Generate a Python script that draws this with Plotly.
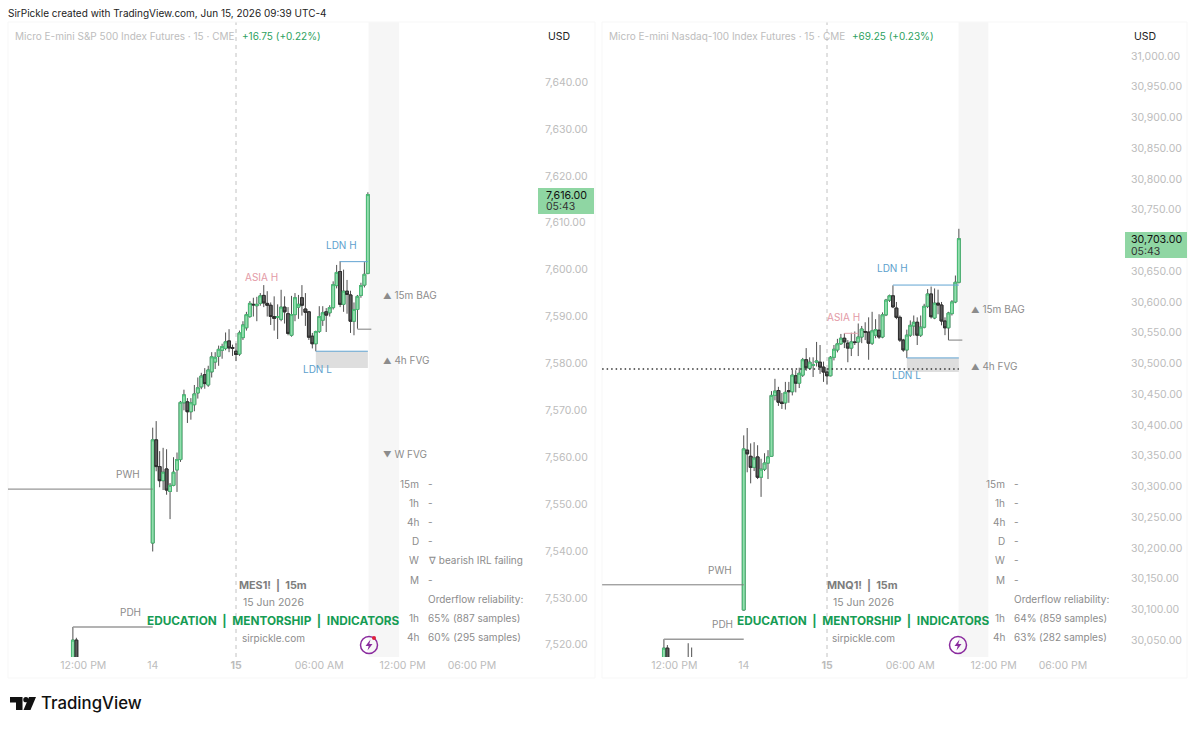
import plotly.graph_objects as go

W, H = 1199, 729
FONT = "Inter, 'Liberation Sans', sans-serif"

# Bars are placed by their 15-minute offset from midnight on 15 Jun
bar_offset = [-47, -46] + list(range(-24, 39))
mnq_offset = [-47, -46, -40, -39] + list(range(-24, 39))

mes_open = [7515, 7521,
    7541.7, 7563.7, 7558, 7555, 7557.5, 7552.7, 7554, 7557.3, 7559.5, 7571.6, 7571.8, 7569.7,
    7571.2, 7573.7, 7575, 7577.6, 7575.4, 7578.2, 7580.3, 7581.5, 7582.8, 7583.2, 7584.8, 7583.4,
    7582.6, 7582, 7585.5, 7587.6, 7590, 7592.6, 7592.3, 7592.8, 7594.5, 7592.8, 7592.4, 7590,
    7589.8, 7589.4, 7592, 7590.6, 7586, 7590.4, 7592, 7594, 7591.6, 7591, 7585.8, 7584.2,
    7586.8, 7589.2, 7591, 7590.8, 7591.9, 7596.6, 7599.6, 7592.6, 7595.4, 7594.6, 7589, 7591.5,
    7594.5, 7596.7, 7599.2]
mes_high = [7523.8, 7521.5,
    7566.3, 7567.7, 7561.3, 7562, 7561.7, 7554.5, 7560, 7561, 7572, 7574.4, 7572.6, 7572.6,
    7575.4, 7577, 7578, 7579, 7579.5, 7582.4, 7582.4, 7583.8, 7584.2, 7586.6, 7587.3, 7584,
    7584.3, 7587, 7589, 7591, 7593.3, 7594, 7594.2, 7595, 7596.7, 7595.4, 7593, 7594.3,
    7592.6, 7595.7, 7594.3, 7592, 7594.4, 7595, 7594.6, 7596.7, 7595, 7591.2, 7586.5, 7587,
    7592.2, 7592.2, 7591.8, 7592.4, 7597.5, 7601, 7601.8, 7600, 7597.8, 7595.5, 7593, 7594.6,
    7597.2, 7601.6, 7616.5]
mes_low = [7510, 7510,
    7539.9, 7557, 7553.6, 7553, 7552, 7546.8, 7553.8, 7552.6, 7559, 7570, 7567.3, 7568,
    7569.8, 7572.5, 7574.5, 7574.6, 7575, 7577, 7578.8, 7579.5, 7581, 7582.8, 7582.4, 7581.6,
    7580.5, 7581.6, 7585, 7587, 7589.7, 7590, 7589, 7592.3, 7592, 7590, 7588.2, 7587,
    7585.2, 7589, 7588.5, 7586, 7585.7, 7589, 7589.5, 7590.2, 7588, 7585, 7583.2, 7582.6,
    7586.5, 7588, 7586.7, 7590, 7591.5, 7596, 7592, 7591, 7590.6, 7586.5, 7586, 7587.4,
    7594, 7596.2, 7599]
mes_close = [7521, 7515,
    7563.7, 7558, 7555, 7556.8, 7553, 7554, 7556.8, 7559.5, 7571.7, 7573.3, 7569.7, 7571.6,
    7573.5, 7574.8, 7577.3, 7575.7, 7578.6, 7581.4, 7581.3, 7583, 7583.6, 7584.6, 7583.3, 7583.2,
    7581.9, 7586.5, 7588.2, 7590.4, 7592.8, 7592.5, 7592.6, 7594.4, 7592.9, 7592.4, 7590, 7589.6,
    7590, 7592, 7591, 7586.4, 7590.4, 7594, 7592.6, 7592.4, 7590.9, 7585.6, 7584.2, 7586.8,
    7590, 7590.8, 7590.3, 7591.9, 7596.8, 7599.4, 7592.6, 7595.4, 7594.7, 7589, 7591.5, 7594.3,
    7596.6, 7599, 7616]

mnq_open = [30000, 30037, 30010, 30010,
    30099, 30359, 30349, 30331, 30348, 30315, 30328, 30338, 30349, 30448, 30456, 30437,
    30436, 30456, 30454, 30480, 30468, 30481, 30506, 30492, 30497, 30502, 30502, 30494,
    30486, 30480, 30510, 30522, 30532, 30541, 30533, 30525, 30535, 30535, 30543, 30552,
    30551, 30533, 30546, 30554, 30543, 30579, 30603, 30610, 30590, 30575, 30538, 30522,
    30546, 30561, 30567, 30546, 30559, 30593, 30613, 30574, 30598, 30595, 30569, 30558,
    30581, 30600, 30632]
mnq_high = [30051.6, 30042, 30045, 30038,
    30383, 30395, 30370, 30372, 30367, 30345, 30354, 30359, 30455, 30475, 30462, 30452,
    30470, 30470, 30490, 30489, 30493, 30509, 30525, 30510, 30510, 30535, 30530, 30503,
    30492, 30512, 30530, 30540, 30548, 30549, 30538, 30550, 30552, 30565, 30561, 30567,
    30575, 30584, 30572, 30580, 30583, 30605, 30612, 30627, 30600, 30578, 30540, 30555,
    30570, 30578, 30575, 30578, 30597, 30621, 30625, 30622, 30620, 30600, 30575, 30584,
    30603, 30643, 30719]
mnq_low = [29990, 29990, 30005, 30005,
    30098, 30323, 30305, 30325, 30312, 30283, 30325, 30312, 30348, 30440, 30431, 30426,
    30425, 30436, 30448, 30453, 30460, 30478, 30488, 30490, 30478, 30495, 30483, 30470,
    30466, 30479, 30505, 30518, 30530, 30525, 30502, 30512, 30530, 30512, 30533, 30538,
    30506, 30530, 30541, 30540, 30541, 30577, 30600, 30590, 30572, 30535, 30519, 30509,
    30543, 30545, 30530, 30543, 30557, 30590, 30573, 30572, 30580, 30562, 30546, 30538,
    30578, 30598, 30630]
mnq_close = [30037, 30000, 30015, 30012,
    30361, 30353, 30331, 30346, 30315, 30328, 30338, 30348, 30448, 30455, 30437, 30435,
    30453, 30454, 30481, 30468, 30484, 30506, 30493, 30502, 30498, 30504, 30494, 30486,
    30480, 30510, 30523, 30532, 30541, 30535, 30525, 30535, 30534, 30543, 30556, 30551,
    30533, 30553, 30555, 30543, 30579, 30603, 30610, 30592, 30575, 30538, 30522, 30546,
    30562, 30567, 30546, 30559, 30593, 30613, 30576, 30598, 30595, 30569, 30558, 30582,
    30600, 30632, 30703]

mes_ticks = [7640, 7630, 7620, 7610, 7600, 7590, 7580, 7570, 7560, 7550, 7540, 7530, 7520]
mnq_ticks = [31000, 30950, 30900, 30850, 30800, 30750, 30650, 30600, 30550, 30500, 30450,
             30400, 30350, 30300, 30250, 30200, 30150, 30100, 30050]
time_ticks = [-44, -24, 0, 24, 48, 68]
time_labels = ["12:00 PM", "14", "<b>15</b>", "06:00 AM", "12:00 PM", "06:00 PM"]

# Session and weekly levels: (start bar, end bar, price)
mes_pwh = (-65.7, -24, 7553.2)
mes_pdh = (-47, -24, 7523.8)
mes_ldn_h = (30, 38, 7601.7)
mes_ldn_l = (23, 38, 7582.6)
mes_bag = (35, 39, 7587.3)
mes_fvg = (23, 38, 7579.0, 7582.6)

mnq_pwh = (-64.8, -24, 30140)
mnq_pdh = (-47, -24, 30051.6)
mnq_asia_h = (5, 9, 30549)
mnq_ldn_h = (19, 38, 30627.5)
mnq_ldn_l = (23, 38, 30509)
mnq_bag = (35, 39, 30538)
mnq_fvg = (23, 38, 30486, 30509)
mnq_dotted = (-64.8, 38, 30491)


def px(x):
    return x / W


def py(y):
    return 1 - y / H


GREY_LINE = "#7d7d7d"
BLUE = "#62a4d2"
PINK = "#e6a4ae"
BLUE_TEXT = "#5d9fcd"
PINK_TEXT = "#e39aa6"
GREY_TEXT = "#8c8c8c"
AXIS_TEXT = "#bcbcbc"
GREEN_TEXT = "#169c54"

fig = go.Figure()


def add_candles(x, o, h, l, c, xa, ya):
    # Wicks go first in charcoal, then the bodies sit on top with their own outline
    fig.add_trace(go.Candlestick(
        x=x, open=o, high=h, low=l, close=c, xaxis=xa, yaxis=ya, whiskerwidth=0,
        increasing=dict(line=dict(color="#4f4f4f", width=1), fillcolor="#4f4f4f"),
        decreasing=dict(line=dict(color="#4f4f4f", width=1), fillcolor="#4f4f4f"),
        hoverinfo="skip", showlegend=False))
    fig.add_trace(go.Candlestick(
        x=x, open=o, close=c, xaxis=xa, yaxis=ya, whiskerwidth=0,
        high=[max(a, b) for a, b in zip(o, c)],
        low=[min(a, b) for a, b in zip(o, c)],
        increasing=dict(line=dict(color="#49bb75", width=1), fillcolor="#93deae"),
        decreasing=dict(line=dict(color="#2e2e2e", width=1), fillcolor="#5c5c5c"),
        hoverinfo="skip", showlegend=False))


add_candles(bar_offset, mes_open, mes_high, mes_low, mes_close, "x", "y")
add_candles(mnq_offset, mnq_open, mnq_high, mnq_low, mnq_close, "x2", "y2")

shapes = []


def level(xa, ya, lv, color, width=1, dash="solid"):
    shapes.append(dict(type="line", xref=xa, yref=ya, x0=lv[0], x1=lv[1], y0=lv[2], y1=lv[2],
                       line=dict(color=color, width=width, dash=dash), layer="above"))


def zone(xa, ya, z):
    shapes.append(dict(type="rect", xref=xa, yref=ya, x0=z[0], x1=z[1], y0=z[2], y1=z[3],
                       fillcolor="#dedede", line=dict(width=0), layer="below"))


def furniture(xa, ya, band):
    # Grey strip after the last bar and the dashed day separator
    shapes.append(dict(type="rect", xref=xa, yref=ya + " domain", x0=band[0], x1=band[1], y0=0, y1=1,
                       fillcolor="#f6f6f6", line=dict(width=0), layer="below"))
    shapes.append(dict(type="line", xref=xa, yref=ya + " domain", x0=0, x1=0, y0=0, y1=1,
                       line=dict(color="#c2c2c2", width=1, dash="4px,4px"), layer="below"))


furniture("x", "y", (38.2, 47))
furniture("x2", "y2", (37.9, 46.5))
zone("x", "y", mes_fvg)
zone("x2", "y2", mnq_fvg)
level("x", "y", mes_pwh, GREY_LINE)
level("x", "y", mes_pdh, "#9a9a9a", 1.5)
level("x", "y", mes_ldn_h, BLUE)
level("x", "y", mes_ldn_l, BLUE)
level("x", "y", mes_bag, GREY_LINE)
level("x2", "y2", mnq_pwh, GREY_LINE)
level("x2", "y2", mnq_pdh, "#9a9a9a", 1.5)
level("x2", "y2", mnq_asia_h, PINK)
level("x2", "y2", mnq_ldn_h, BLUE)
level("x2", "y2", mnq_ldn_l, BLUE)
level("x2", "y2", mnq_bag, GREY_LINE)
level("x2", "y2", mnq_dotted, "#333333", 1.5, "1.5px,3px")

# Pane outlines and the price tags on the scales
for x0, x1 in ((8, 595), (602, 1187)):
    shapes.append(dict(type="rect", xref="paper", yref="paper", x0=px(x0), x1=px(x1), y0=py(678), y1=py(22),
                       line=dict(color="#f7f7f7", width=1), fillcolor="rgba(0,0,0,0)", layer="below"))
for x0, x1, y0, y1 in ((538, 594, 188, 214), (1125, 1187, 232, 258)):
    shapes.append(dict(type="rect", xref="paper", yref="paper", x0=px(x0), x1=px(x1), y0=py(y1), y1=py(y0),
                       fillcolor="#8fd6a3", line=dict(width=0), layer="above"))


def bolt_badge(cx, cy, dot):
    shapes.append(dict(type="circle", xref="paper", yref="paper", x0=px(cx - 8.5), x1=px(cx + 8.5),
                       y0=py(cy + 8.5), y1=py(cy - 8.5), line=dict(color="#8a2a9e", width=1.5),
                       fillcolor="rgba(255,255,255,0)", layer="above"))
    pts = [(1.5, -5.5), (-3.5, 1), (-0.3, 1), (-1.5, 5.5), (3.5, -1), (0.3, -1)]
    path = "M " + " L ".join(f"{px(cx + a):.5f},{py(cy + b):.5f}" for a, b in pts) + " Z"
    shapes.append(dict(type="path", xref="paper", yref="paper", path=path,
                       fillcolor="#8a2a9e", line=dict(width=0), layer="above"))
    if dot:
        shapes.append(dict(type="circle", xref="paper", yref="paper", x0=px(cx + 3), x1=px(cx + 7),
                           y0=py(cy - 5), y1=py(cy - 9), fillcolor="#e0203a", line=dict(width=0), layer="above"))


bolt_badge(369, 645, True)
bolt_badge(958, 645, False)


def tv_logo():
    # Logo mark built from three pieces: T bar, dot and slanted stroke
    bar = [(10, 697), (22.5, 697), (22.5, 710), (16, 710), (16, 702.5), (10, 702.5)]
    slash = [(29, 697), (36, 697), (30.5, 710), (23.5, 710)]
    for pts in (bar, slash):
        path = "M " + " L ".join(f"{px(a):.5f},{py(b):.5f}" for a, b in pts) + " Z"
        shapes.append(dict(type="path", xref="paper", yref="paper", path=path,
                           fillcolor="#111111", line=dict(width=0), layer="above"))
    shapes.append(dict(type="circle", xref="paper", yref="paper", x0=px(23.3), x1=px(28.5), y0=py(702.3), y1=py(697),
                       fillcolor="#111111", line=dict(width=0), layer="above"))


tv_logo()

notes = []


def note(x, y, text, color=GREY_TEXT, size=11, anchor="left", weight=None, family=FONT):
    font = dict(family=family, size=size, color=color)
    if weight:
        font["weight"] = weight
    notes.append(dict(x=px(x), y=py(y), xref="paper", yref="paper", text=text, showarrow=False,
                      xanchor=anchor, yanchor="middle", font=font, borderpad=0, borderwidth=0))


def marked(symbol, text):
    return f'<span style="font-size:8.5px">{symbol}</span> {text}'


note(8, 13, "SirPickle created with TradingView.com, Jun 15, 2026 09:39 UTC-4", "#222222", 10)
note(41, 703, "TradingView", "#111111", 16.8, weight=500)

note(15, 36, "Micro E-mini S&amp;P 500 Index Futures · 15 · CME", "#bdbdbd", 10)
note(242, 36, "+16.75 (+0.22%)", "#2da160", 10)
note(559, 37, "USD", "#222222", 10.5, "center")
note(546, 195, "7,616.00", "#111111", 10.7)
note(546, 207, "05:43", "#333333", 10.5)

note(609, 36, "Micro E-mini Nasdaq-100 Index Futures · 15 · CME", "#bdbdbd", 10)
note(852, 36, "+69.25 (+0.23%)", "#2da160", 10)
note(1145, 37, "USD", "#222222", 10.5, "center")
note(1131, 239, "30,703.00", "#111111", 10.7)
note(1131, 251, "05:43", "#333333", 10.5)

# Level captions
note(261, 277, "ASIA H", PINK_TEXT, 10, "center")
note(341, 245, "LDN H", BLUE_TEXT, 10, "center")
note(317, 369, "LDN L", BLUE_TEXT, 10, "center")
note(128, 474, "PWH", GREY_TEXT, 10, "center")
note(130, 612, "PDH", GREY_TEXT, 10, "center")
note(843, 317, "ASIA H", PINK_TEXT, 10, "center")
note(892, 268, "LDN H", BLUE_TEXT, 10, "center")
note(906, 375, "LDN L", BLUE_TEXT, 10, "center")
note(720, 570, "PWH", GREY_TEXT, 10, "center")
note(722, 624, "PDH", GREY_TEXT, 10, "center")

note(383, 295, marked("▲", "15m BAG"), GREY_TEXT, 10)
note(383, 360, marked("▲", "4h FVG"), GREY_TEXT, 10)
note(383, 454, marked("▼", "W FVG"), GREY_TEXT, 10)
note(971, 309, marked("▲", "15m BAG"), GREY_TEXT, 10)
note(971, 366, marked("▲", "4h FVG"), GREY_TEXT, 10)

# Timeframe table beside each chart
frames = ["15m", "1h", "4h", "D", "W", "M"]
mes_state = ["-", "-", "-", "-", "∇ bearish IRL failing", "-"]
mnq_state = ["-", "-", "-", "-", "-", "-"]
rows_y = [484, 503, 522, 541, 560, 580]
for y, f, a, b in zip(rows_y, frames, mes_state, mnq_state):
    note(419, y, f, GREY_TEXT, 10, "right")
    note(428, y, a, GREY_TEXT, 10)
    note(1005, y, f, GREY_TEXT, 10, "right")
    note(1014, y, b, GREY_TEXT, 10)

note(428, 599, "Orderflow reliability:", GREY_TEXT, 10)
note(419, 618, "1h", GREY_TEXT, 10, "right")
note(428, 618, "65% (887 samples)", GREY_TEXT, 10)
note(419, 637, "4h", GREY_TEXT, 10, "right")
note(428, 637, "60% (295 samples)", GREY_TEXT, 10)
note(1014, 599, "Orderflow reliability:", GREY_TEXT, 10)
note(1005, 618, "1h", GREY_TEXT, 10, "right")
note(1014, 618, "64% (859 samples)", GREY_TEXT, 10)
note(1005, 637, "4h", GREY_TEXT, 10, "right")
note(1014, 637, "63% (282 samples)", GREY_TEXT, 10)

# Watermark block
note(239, 585, "MES1!  |  15m", "#7d7d7d", 10.8, weight=700)
note(273, 602, "15 Jun 2026", GREY_TEXT, 10.5, "center")
note(272.5, 620, "EDUCATION  |  MENTORSHIP  |  INDICATORS", GREEN_TEXT, 11.8, "center", weight=700)
note(273, 638, "sirpickle.com", GREY_TEXT, 10, "center")
note(827, 585, "MNQ1!  |  15m", "#7d7d7d", 10.8, weight=700)
note(863, 602, "15 Jun 2026", GREY_TEXT, 10.5, "center")
note(862.5, 620, "EDUCATION  |  MENTORSHIP  |  INDICATORS", GREEN_TEXT, 11.8, "center", weight=700)
note(863, 638, "sirpickle.com", GREY_TEXT, 10, "center")


def x_axis(domain, rng, anchor):
    return dict(domain=domain, range=rng, anchor=anchor, tickmode="array", tickvals=time_ticks,
                ticktext=time_labels, tickfont=dict(family=FONT, size=10.5, color=AXIS_TEXT),
                showgrid=False, zeroline=False, showline=False, ticks="", ticklen=0,
                rangeslider=dict(visible=False), fixedrange=True)


def y_axis(rng, ticks, anchor, standoff):
    return dict(domain=[py(657), py(22)], range=rng, anchor=anchor, side="right", tickmode="array",
                tickvals=ticks, ticktext=[f"{t:,.2f}" for t in ticks],
                tickfont=dict(family=FONT, size=10.5, color=AXIS_TEXT), ticklabelstandoff=standoff,
                showgrid=False, zeroline=False, showline=False, ticks="", ticklen=0, fixedrange=True)


fig.update_layout(
    width=W, height=H, autosize=False,
    margin=dict(l=0, r=0, t=0, b=0, pad=0),
    paper_bgcolor="#ffffff", plot_bgcolor="rgba(0,0,0,0)",
    boxgap=0.18, boxgroupgap=0, showlegend=False, hovermode=False,
    xaxis=x_axis([px(8), px(536)], [-65.7, 86.45], "y"),
    yaxis=y_axis([7517.4, 7652.8], mes_ticks, "x", 8),
    xaxis2=x_axis([px(602), px(1127)], [-64.84, 86.45], "y2"),
    yaxis2=y_axis([30022.6, 31055.3], mnq_ticks, "x2", 3),
    shapes=shapes, annotations=notes,
    font=dict(family=FONT),
)

fig.write_html("out.html", config=dict(displayModeBar=False))
